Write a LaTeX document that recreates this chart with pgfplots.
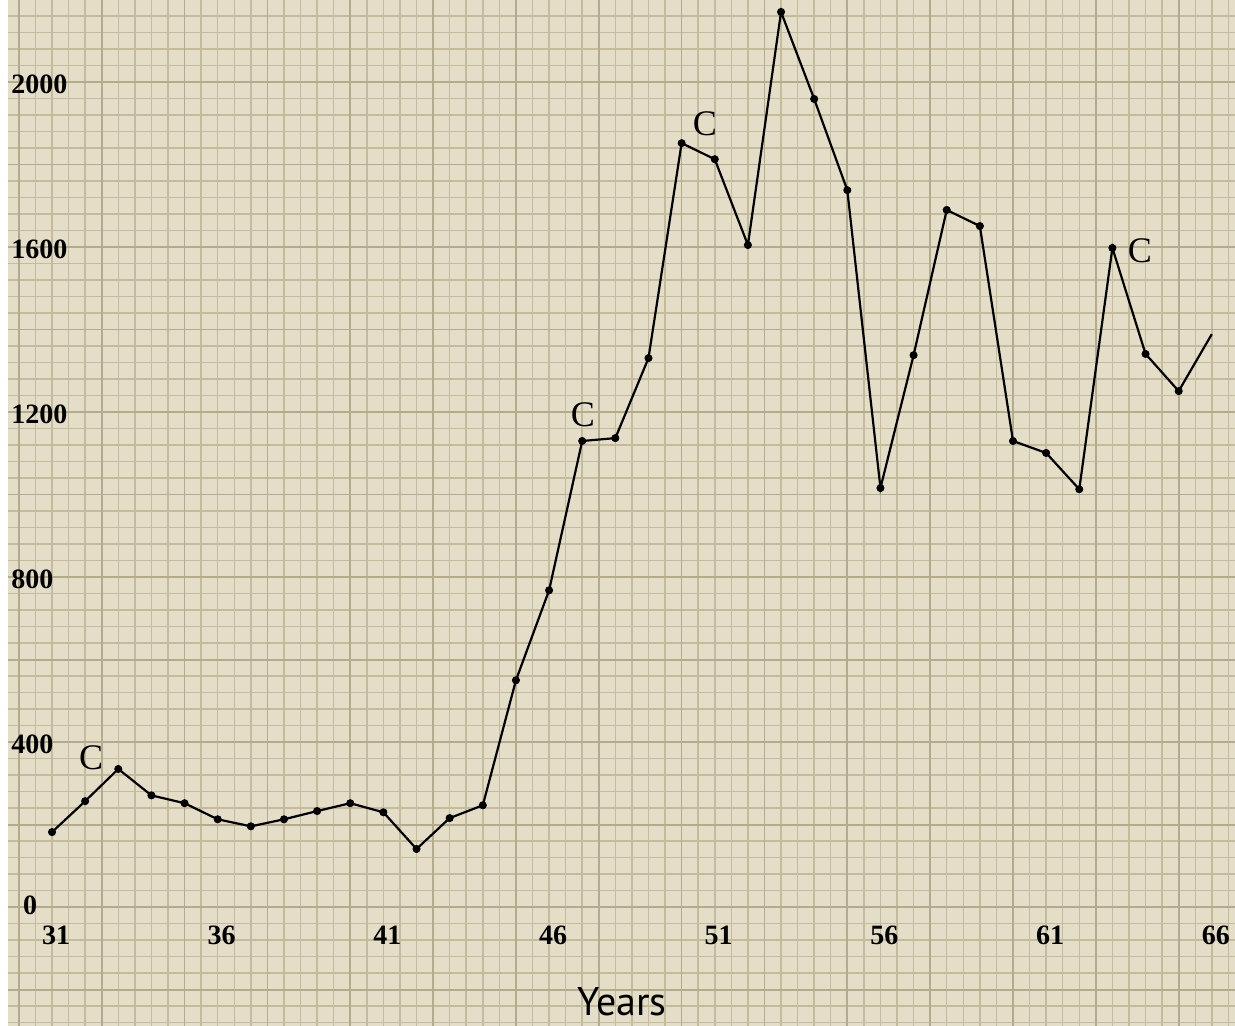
\documentclass[border=0pt]{standalone}
\usepackage{pgfplots}
\pgfplotsset{compat=1.18}
\usepackage{fontspec}
\setmainfont{Liberation Serif}
\newfontfamily\gill{PT Sans}
\definecolor{paper}{RGB}{228,222,200}
\definecolor{gridc}{RGB}{196,186,156}
\definecolor{gridd}{RGB}{180,170,140}
\pgfplotstableread{
x y
31 182
32 257
33 335
34 271
35 252
36 213
37 196
38 213
39 233
40 252
41 230
42 141
43 216
44 247
45 550
46 768
47 1130
48 1137
49 1331
50 1852
51 1813
52 1605
53 2170
54 1959
55 1738
56 1016
57 1338
58 1690
59 1651
60 1130
61 1101
62 1013
63 1598
64 1341
65 1251
}\marked
\pgfplotstableread{
x y
65 1251
66 1389
}\tail
\begin{document}
\begin{tikzpicture}
\begin{axis}[
  width=617.5pt, height=513pt, scale only axis,
  xmin=29.43, xmax=66.70, ymin=-288, ymax=2199,
  axis line style={draw=none}, tick style={draw=none},
  axis background/.style={fill=paper},
  xtick={29.5,30,...,66.5}, ytick={-280,-240,...,2160},
  xticklabels={}, yticklabels={},
  xticklabel style={overlay}, yticklabel style={overlay},
  grid=major, major grid style={gridc, line width=0.75pt},
  extra x ticks={30,32.5,...,65}, extra x tick labels={},
  extra y ticks={-200,0,...,2000}, extra y tick labels={},
  extra tick style={grid=major, major grid style={gridd, line width=0.85pt}},
  clip=false,
]
\coordinate (sw) at (rel axis cs:0,0);
\coordinate (ne) at (rel axis cs:1,1);
\fill[white] (rel axis cs:0,0) rectangle (rel axis cs:0.0065,1);
\addplot[black, line width=1.1pt, no marks] table[x=x,y=y] {\marked};
\addplot[black, line width=1.1pt, no marks] table[x=x,y=y] {\tail};
\addplot[only marks, mark=*, mark size=1.8pt, black] table[x=x,y=y] {\marked};
\pgfplotsinvokeforeach{31,36,41,46,51,56,61,66}{
  \node[font=\bfseries\fontsize{14}{14}\selectfont, inner sep=0pt] at (axis cs:#1+0.12,-68) {#1};
}
\node[font=\bfseries\fontsize{14}{14}\selectfont, inner sep=0pt] at (axis cs:30.34,5) {0};
\pgfplotsinvokeforeach{400,800,1200,1600,2000}{
  \node[font=\bfseries\fontsize{14}{14}\selectfont, inner sep=0pt, anchor=west] at (axis cs:29.76,#1-5) {#1};
}
\node[font=\gill\fontsize{20}{20}\selectfont, inner sep=0pt] at (axis cs:48.2,-228) {Years};
\node[font=\fontsize{18}{18}\selectfont, inner sep=0pt] at (axis cs:32.18,361) {C};
\node[font=\fontsize{18}{18}\selectfont, inner sep=0pt] at (axis cs:47.02,1193) {C};
\node[font=\fontsize{18}{18}\selectfont, inner sep=0pt] at (axis cs:50.70,1898) {C};
\node[font=\fontsize{18}{18}\selectfont, inner sep=0pt] at (axis cs:63.83,1590) {C};
\end{axis}
\pgfresetboundingbox
\useasboundingbox (sw) rectangle (ne);
\end{tikzpicture}
\end{document}
